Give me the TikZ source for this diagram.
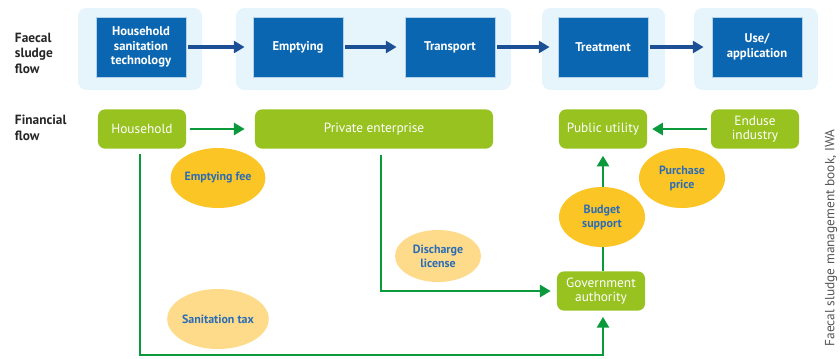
\documentclass[tikz,border=0pt]{standalone}
\usepackage{fontspec}
\setmainfont{PT Sans}
\setsansfont{PT Sans}
\usetikzlibrary{arrows.meta, positioning, shapes.geometric, calc}
\definecolor{cpanel}{HTML}{E6F4FC}
\definecolor{cbox}{HTML}{0A66B0}
\definecolor{cdarkblue}{HTML}{1B4F96}
\definecolor{cgreenbox}{HTML}{97C21F}
\definecolor{cgreenline}{HTML}{0A9A3C}
\definecolor{cyellow}{HTML}{FCC526}
\definecolor{clight}{HTML}{FDDB8A}
\definecolor{cetext}{HTML}{2B6CB5}
\definecolor{cgrey}{HTML}{555555}
\tikzset{
  every picture/.style={font=\sffamily},
  panel/.style={fill=cpanel, rounded corners=6pt},
  flowbox/.style={draw=white!70!cbox, fill=cbox, text=white, align=center, line width=0.6pt,
    minimum width=2.25cm, minimum height=1.5cm, font=\fontsize{9}{10.5}\selectfont\bfseries},
  moneybox/.style={fill=cgreenbox, text=white, rounded corners=5pt, align=center,
    minimum width=2.2cm, minimum height=0.98cm, font=\fontsize{9.5}{10}\selectfont},
  coin/.style={ellipse, fill=#1, text=cetext, align=center, minimum width=2.15cm,
    minimum height=1.5cm, inner sep=0pt, font=\fontsize{8.5}{10}\selectfont\bfseries},
  coin/.default=cyellow,
  rowlabel/.style={anchor=west, align=left, font=\fontsize{9.5}{11}\selectfont\bfseries, text=black!85},
  bluearrow/.style={-{Triangle[length=2.7mm, width=3mm]}, draw=cdarkblue, line width=2.3pt},
  greenarrow/.style={-{Triangle[length=2.7mm, width=3mm]}, draw=cgreenline, line width=2.1pt},
}

\begin{document}
\begin{tikzpicture}[x=0.025cm, y=-0.025cm]
  \useasboundingbox (0,0) rectangle (840,358);
  % light panels behind the sludge chain
  \fill[panel] (78,8) rectangle (202,90);
  \fill[panel] (236,8) rectangle (511,90);
  \fill[panel] (542,8) rectangle (665,90);
  \fill[panel] (694,8) rectangle (818,90);
  \node[rowlabel] (lsludge) at (10,53) {Faecal\\sludge\\flow};
  \node[rowlabel] (lmoney) at (10,128) {Financial\\flow};
  % faecal sludge flow
  \foreach \i/\x/\t in {1/141/{Household\\sanitation\\technology}, 2/298/Emptying,
      3/450/Transport, 4/603/Treatment, 5/757/{Use/\\application}}
    \node[flowbox] (f\i) at (\x,47) {\t};
  \foreach \a/\b in {1/2, 2/3, 3/4, 4/5}
    \draw[bluearrow, shorten <=0.05cm, shorten >=0.2cm] (f\a) -- (f\b);
  % financial flow
  \node[moneybox] (hh) at (142,129) {Household};
  \node[moneybox, minimum width=5.95cm] (pe) at (374,129) {Private enterprise};
  \node[moneybox] (pu) at (603,129) {Public utility};
  \node[moneybox] (ei) at (755,129) {Enduse\\industry};
  \node[moneybox] (ga) at (601,291) {Government\\authority};
  \coordinate (bot) at (0,355);
  \draw[greenarrow, shorten <=0.1cm, shorten >=0.25cm] (hh) -- (pe);
  \draw[greenarrow, shorten <=0.1cm, shorten >=0.12cm] (ei) -- (pu);
  \draw[greenarrow, shorten >=0.17cm] ([xshift=0.05cm]ga.north) -- ([xshift=0.05cm]ga.north |- pu.south);
  \draw[greenarrow, shorten <=0.15cm, shorten >=0.15cm] ([xshift=0.175cm]pe.south) |- (ga.west);
  \draw[greenarrow, shorten <=0.12cm, shorten >=0.15cm] ([xshift=-0.05cm]hh.south) |- ([xshift=0.05cm]bot -| ga.south) -- ([xshift=0.05cm]ga.south);
  % payments
  \node[coin] (fee) at (218,178) {Emptying fee};
  \node[coin=clight] (tax) at (218,319) {Sanitation tax};
  \node[coin=clight, minimum height=1.3cm] (lic) at (438,256) {Discharge\\license};
  \node[coin] (bud) at (602,217) {Budget\\support};
  \node[coin] (buy) at (682,178) {Purchase\\price};
  \node[rotate=90, text=cgrey, inner sep=1pt, font=\fontsize{9.5}{11}\selectfont] (src) at (831,238) {Faecal sludge management book, IWA};
\end{tikzpicture}
\end{document}
